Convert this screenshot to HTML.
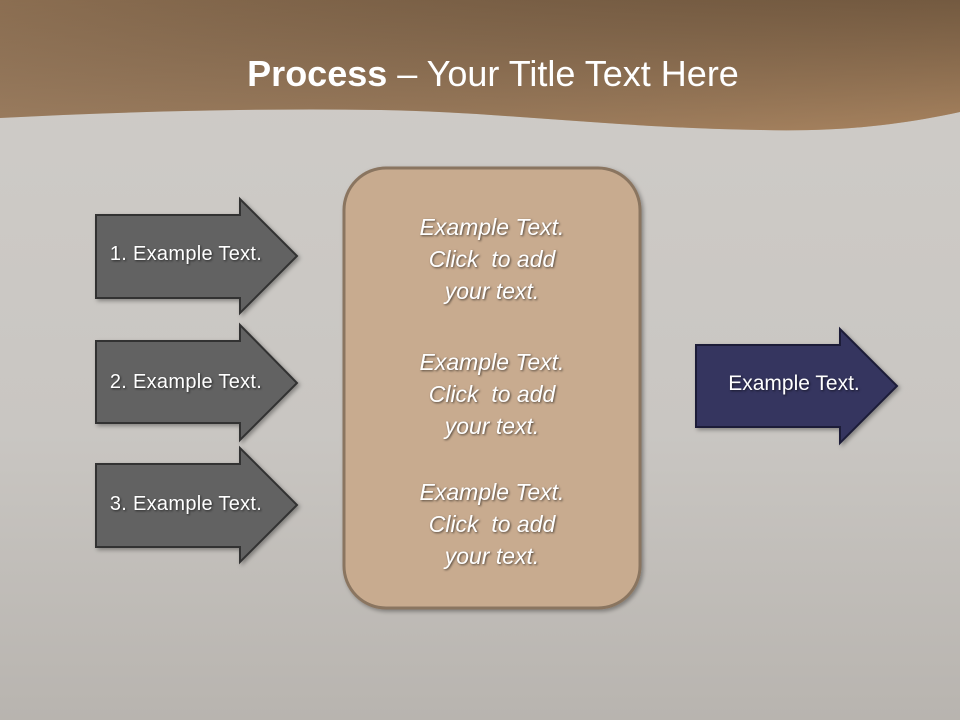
<!DOCTYPE html>
<html><head><meta charset="utf-8"><style>
body{margin:0}
#s{position:relative;width:960px;height:720px;overflow:hidden;background:linear-gradient(#cfccc8 0%,#c9c6c2 60%,#b8b4af 100%);font-family:"Liberation Sans",sans-serif}
.t{position:absolute;color:#fff;text-shadow:1px 1px 2px rgba(0,0,0,.6)}
</style></head><body><div id="s">
<svg width="960" height="720" style="position:absolute;left:0;top:0">
<defs>
<linearGradient id="g" x1="0" y1="1" x2="0.4" y2="-0.3"><stop offset="0" stop-color="#b39170"/><stop offset="1" stop-color="#7a5f44"/></linearGradient>
<linearGradient id="g2" x1="0" y1="0" x2="1" y2="1"><stop offset="0" stop-color="#000" stop-opacity="0"/><stop offset="1" stop-color="#a87f56" stop-opacity="0.5"/></linearGradient>
<filter id="sh"><feDropShadow dx="2" dy="2" stdDeviation="2" flood-opacity="0.35"/></filter>
</defs>
<path d="M0 0H960V112C900 125 840 132 760 130C620 128 500 112 380 110C250 108 120 112 0 118Z" fill="url(#g)"/>
<path d="M0 0H960V112C900 125 840 132 760 130C620 128 500 112 380 110C250 108 120 112 0 118Z" fill="url(#g2)"/>
<g fill="#626262" stroke="#333" stroke-width="2" filter="url(#sh)">
<path d="M96 215H240V199L297 256L240 313V298H96Z"/>
<path d="M96 341H240V325L297 383L240 440V423H96Z"/>
<path d="M96 464H240V448L297 505L240 562V547H96Z"/>
</g>
<path d="M696 345H840V329L897 386L840 443V427H696Z" fill="#34355f" stroke="#1d1e38" stroke-width="2" filter="url(#sh)"/>
<rect x="344" y="168" width="296" height="440" rx="42" fill="#c8ab8f" stroke="#8a7560" stroke-width="3" filter="url(#sh)"/>
</svg>
<div class="t" style="left:0;width:986px;top:52px;text-align:center;font-size:36px;line-height:44px;text-shadow:none"><b>Process</b> – Your Title Text Here</div>
<div class="t" style="left:86px;width:200px;top:243px;text-align:center;font-size:20px;letter-spacing:0.3px">1. Example Text.</div>
<div class="t" style="left:86px;width:200px;top:371px;text-align:center;font-size:20px;letter-spacing:0.3px">2. Example Text.</div>
<div class="t" style="left:86px;width:200px;top:493px;text-align:center;font-size:20px;letter-spacing:0.3px">3. Example Text.</div>
<div class="t" style="left:696px;width:196px;top:372px;text-align:center;font-size:21px">Example Text.</div>
<div class="t" style="left:344px;width:296px;top:211px;text-align:center;font-size:23px;line-height:32px;font-style:italic">Example Text.<br>Click &nbsp;to add<br>your text.</div>
<div class="t" style="left:344px;width:296px;top:346px;text-align:center;font-size:23px;line-height:32px;font-style:italic">Example Text.<br>Click &nbsp;to add<br>your text.</div>
<div class="t" style="left:344px;width:296px;top:476px;text-align:center;font-size:23px;line-height:32px;font-style:italic">Example Text.<br>Click &nbsp;to add<br>your text.</div>
</div></body></html>
